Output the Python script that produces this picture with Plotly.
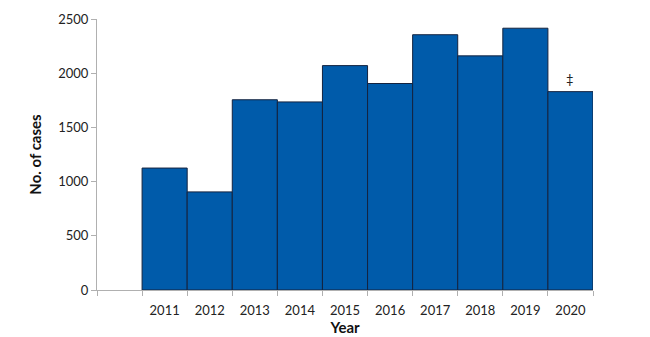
import plotly.graph_objects as go

years = ["2011", "2012", "2013", "2014", "2015", "2016", "2017", "2018", "2019", "2020"]
cases = [1125, 905, 1755, 1735, 2070, 1905, 2355, 2160, 2415, 1830]
y_ticks = [0, 500, 1000, 1500, 2000, 2500]

# slot 0 stays empty; years occupy slots 1..10
positions = list(range(1, len(years) + 1))

fig = go.Figure(
    go.Bar(
        x=positions,
        y=cases,
        width=1,
        marker=dict(color="#005BAA", line=dict(color="#14233f", width=1)),
        hoverinfo="skip",
    )
)

fig.add_annotation(
    x=positions[-1], y=cases[-1], text="‡", showarrow=False,
    yanchor="bottom", yshift=3, font=dict(family="Lato", size=13, color="#222"),
)

axis_font = dict(family="Lato", size=13, color="#222")
fig.update_layout(
    width=650, height=337,
    margin=dict(l=97, r=57, t=19, b=47),
    paper_bgcolor="white", plot_bgcolor="white",
    showlegend=False,
    xaxis=dict(
        range=[-0.5, 10.5], automargin=False,
        tickvals=positions, ticktext=years, ticks="",
        tickfont=axis_font, ticklabelstandoff=8,
        showline=True, linecolor="#b0b0b0", linewidth=1,
        showgrid=False, zeroline=False,
        minor=dict(tick0=0.5, dtick=1, ticks="outside", ticklen=5, tickcolor="#b0b0b0"),
        title=dict(text="<b>Year</b>", font=dict(family="Lato", size=15, color="#111"), standoff=2),
    ),
    yaxis=dict(
        range=[0, 2500], automargin=False,
        tickvals=y_ticks,
        ticks="outside", ticklen=5, tickcolor="#b0b0b0",
        tickfont=axis_font,
        showline=True, linecolor="#b0b0b0", linewidth=1,
        showgrid=False, zeroline=False,
        title=dict(text="<b>No. of cases</b>", font=dict(family="Lato", size=15, color="#111"), standoff=12),
    ),
)

fig.write_html("out.html")
